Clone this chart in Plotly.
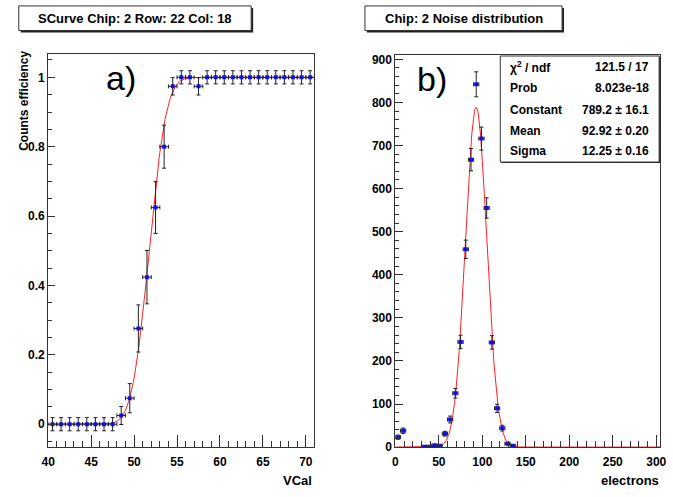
import math
import numpy as np
import plotly.graph_objects as go

W, H = 673, 497

# ---------------- data: left panel (S-curve) ----------------
vcal = [40.5, 41.5, 42.5, 43.5, 44.5, 45.5, 46.5, 47.5, 48.5, 49.5, 50.5,
        51.5, 52.5, 53.5, 54.5, 55.5, 56.5, 57.5, 58.5, 59.5, 60.5, 61.5,
        62.5, 63.5, 64.5, 65.5, 66.5, 67.5, 68.5, 69.5, 70.5]
eff = [0, 0, 0, 0, 0, 0, 0, 0, 0.025, 0.075, 0.276,
       0.424, 0.625, 0.80, 0.974, 1.0, 1.0, 0.974, 1.0, 1.0, 1.0, 1.0,
       1.0, 1.0, 1.0, 1.0, 1.0, 1.0, 1.0, 1.0, 1.0]
eff_err = [0.019, 0.019, 0.019, 0.019, 0.019, 0.019, 0.019, 0.019, 0.026, 0.042, 0.068,
           0.077, 0.075, 0.062, 0.025, 0.019, 0.019, 0.025, 0.019, 0.019, 0.019, 0.019,
           0.019, 0.019, 0.019, 0.019, 0.019, 0.019, 0.019, 0.019, 0.019]
scurve_mu, scurve_sigma = 51.76, 1.58   # fitted error-function parameters

# ---------------- data: right panel (noise distribution) ----------------
noise_x = [3, 9, 33, 39, 45, 51, 57, 63, 69, 75, 81, 87, 93, 99, 105, 111, 117, 123, 129, 135]
noise_n = [23, 38, 1, 1, 4, 3, 31, 64, 125, 244, 459, 667, 842, 716, 555, 243, 90, 44, 8, 3]
noise_err = [4.8, 6.2, 1.0, 1.0, 2.0, 1.7, 5.6, 8.0, 11.2, 15.6, 21.4, 25.8, 29.0, 26.8, 23.6, 15.6, 9.5, 6.6, 2.8, 1.7]
g_const, g_mean, g_sigma = 789.2, 92.92, 12.25

stats_labels = ["χ<sup>2</sup> / ndf", "Prob", "Constant", "Mean", "Sigma"]
stats_values = ["121.5 / 17", "8.023e-18", "789.2 ± 16.1", "92.92 ± 0.20", "12.25 ± 0.16"]

# ---------------- helpers ----------------
def px(x):
    return x / W

def py(y):
    return 1 - y / H

FONT = "Liberation Sans"
BLUE = "#1010e0"
RED = "#ff2020"

fig = go.Figure()

# fit curves
xs_l = np.linspace(40, 71, 311)
ys_l = [0.5 * (1 + math.erf((x - scurve_mu) / (math.sqrt(2) * scurve_sigma))) for x in xs_l]
fig.add_trace(go.Scatter(x=xs_l, y=ys_l, mode="lines", line=dict(color=RED, width=1),
                         xaxis="x", yaxis="y", showlegend=False, hoverinfo="skip"))

xs_r = np.linspace(0, 305, 611)
ys_r = g_const * np.exp(-0.5 * ((xs_r - g_mean) / g_sigma) ** 2)
fig.add_trace(go.Scatter(x=xs_r, y=ys_r, mode="lines", line=dict(color=RED, width=1),
                         xaxis="x2", yaxis="y2", showlegend=False, hoverinfo="skip"))

# data points
fig.add_trace(go.Scatter(
    x=vcal, y=eff, mode="markers", xaxis="x", yaxis="y", showlegend=False,
    marker=dict(color=BLUE, size=4, symbol="square"),
    error_y=dict(type="data", array=eff_err, color="#222", thickness=1, width=2),
    error_x=dict(type="constant", value=0.5, color="#222", thickness=1, width=2)))

fig.add_trace(go.Scatter(
    x=noise_x, y=noise_n, mode="markers", xaxis="x2", yaxis="y2", showlegend=False,
    marker=dict(color=BLUE, size=4, symbol="square"),
    error_y=dict(type="data", array=noise_err, color="#222", thickness=1, width=2),
    error_x=dict(type="constant", value=3, color="#222", thickness=1, width=2)))

tickfont = dict(family=FONT, size=12, color="black", weight="bold")
axis_common = dict(showline=True, linecolor="#333", linewidth=1, mirror=True,
                   showgrid=False, zeroline=False, ticks="inside", tickcolor="#333",
                   tickfont=tickfont)

fig.update_layout(
    width=W, height=H, autosize=False,
    margin=dict(l=0, r=0, t=0, b=0),
    paper_bgcolor="white", plot_bgcolor="white",
    xaxis=dict(domain=[px(42), px(313.5)], anchor="y", range=[40, 71],
               tick0=40, dtick=5, ticklen=12,
               minor=dict(dtick=1, ticklen=6, ticks="inside", tickcolor="#333"),
               ticklabelstandoff=4, **axis_common),
    yaxis=dict(domain=[py(453.3), py(52.7)], anchor="x", range=[-0.066, 1.068],
               tick0=0, dtick=0.2, ticklen=7,
               minor=dict(dtick=0.05, ticklen=4, ticks="inside", tickcolor="#333"),
               **axis_common),
    xaxis2=dict(domain=[px(396), px(666)], anchor="y2", range=[0, 304.5],
                tick0=0, dtick=50, ticklen=12,
                minor=dict(dtick=10, ticklen=6, ticks="inside", tickcolor="#333"),
                ticklabelstandoff=4, **axis_common),
    yaxis2=dict(domain=[py(453.3), py(54)], anchor="x2", range=[0, 910],
                tick0=0, dtick=100, ticklen=8,
                minor=dict(dtick=20, ticklen=4, ticks="inside", tickcolor="#333"),
                **axis_common),
)

shapes = []
annotations = []

def pave(x0, y0, x1, y1, shadow=2):
    shapes.append(dict(type="rect", xref="paper", yref="paper",
                       x0=px(x0 + shadow), x1=px(x1 + shadow), y0=py(y1 + shadow), y1=py(y0 + shadow),
                       line=dict(width=0), fillcolor="#222", layer="above"))
    shapes.append(dict(type="rect", xref="paper", yref="paper",
                       x0=px(x0), x1=px(x1), y0=py(y1), y1=py(y0),
                       line=dict(width=1, color="#333"), fillcolor="white", layer="above"))

def text(x, y, s, size=12, xanchor="center", bold=True, angle=0):
    annotations.append(dict(x=px(x), y=py(y), xref="paper", yref="paper", text=s,
                            showarrow=False, xanchor=xanchor, yanchor="middle", textangle=angle,
                            font=dict(family=FONT, size=size, color="black",
                                      weight="bold" if bold else "normal")))

# title boxes
pave(12, 4, 249, 29)
text(130.5, 16.5, "SCurve Chip: 2 Row: 22 Col: 18", size=13)
pave(365, 4, 566, 29)
text(465.5, 16.5, "Chip: 2 Noise distribution", size=13)

# stats box
pave(503, 55, 665, 163, shadow=1)
row_y = [66, 88, 110, 131, 152]
for yy, lab, val in zip(row_y, stats_labels, stats_values):
    text(511, yy, lab, size=12, xanchor="left")
    text(657, yy, val, size=12, xanchor="right")

# panel letters
text(116, 77, "a)", size=34, bold=False)
text(433, 78, "b)", size=34, bold=False)

# axis titles
text(18, 101, "Counts efficiency", size=12, angle=-90)
text(313, 487, "VCal", size=13, xanchor="right")
text(667, 487, "electrons", size=13, xanchor="right")

fig.update_layout(shapes=shapes, annotations=annotations)

post = """
document.documentElement.style.margin='0';
document.documentElement.style.overflow='hidden';
document.body.style.margin='0';
document.body.style.overflow='hidden';
var gd = document.getElementById('{plot_id}');
if (gd) {
  var sc = gd.querySelector('.svg-container');
  if (sc) { sc.style.display = 'block'; }
  if (gd.parentElement) { gd.parentElement.style.lineHeight = '0'; }
}
"""
fig.write_html("out.html", post_script=post, config={"displayModeBar": False})
